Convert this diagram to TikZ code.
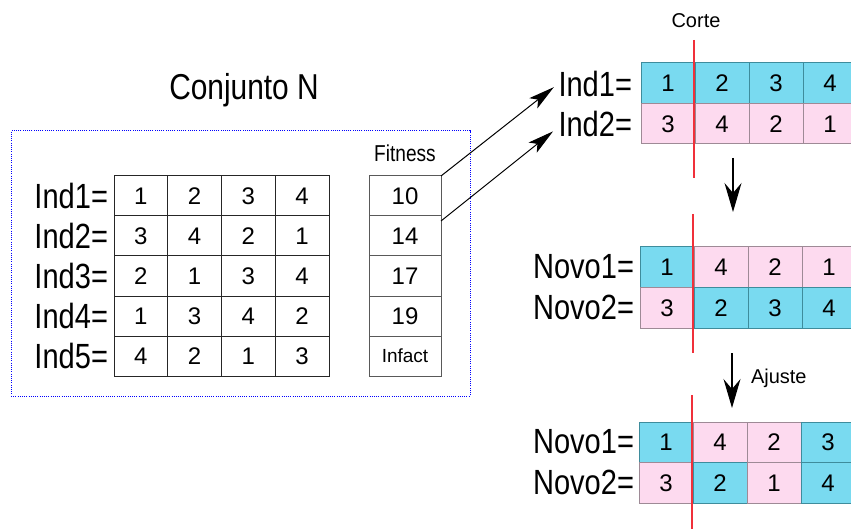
\documentclass[tikz,border=0pt]{standalone}
\usepackage{fontspec}
\setmainfont{Liberation Sans}
\newfontfamily\narrowsans[FakeStretch=0.83]{Liberation Sans}
\usetikzlibrary{arrows.meta}
\definecolor{genecyan}{HTML}{79DAF0}
\definecolor{genepink}{HTML}{FDDAEF}
\definecolor{cyanedge}{HTML}{3E8C9C}
\definecolor{pinkedge}{HTML}{9E8A96}
\definecolor{cutred}{HTML}{F0303A}

\begin{document}
\begin{tikzpicture}[x=1pt,y=-1pt,
  every node/.style={inner sep=0pt, outer sep=0pt},
  cell/.style={draw=black!85, line width=1pt, minimum width=53.75pt, minimum height=40pt,
    anchor=north west, font=\fontsize{24}{28}\selectfont},
  fitcell/.style={cell, draw=black!65, minimum width=72pt},
  gc/.style={cell, fill=genecyan, draw=cyanedge, minimum width=54pt, minimum height=40.5pt},
  gp/.style={cell, fill=genepink, draw=pinkedge, minimum width=54pt, minimum height=40.5pt},
  rowlabel/.style={anchor=east, font=\narrowsans\fontsize{35}{40}\selectfont},
  smalltext/.style={font=\fontsize{20}{24}\selectfont},
  cutline/.style={draw=cutred, line width=1.2pt},
  bigarrow/.style={-{Stealth[length=29pt,width=17pt,inset=10pt]}, line width=1.2pt},
  linkarrow/.style={-{Stealth[length=26pt,width=13pt,inset=6pt]}, line width=1pt}]
\useasboundingbox (0,0) rectangle (851,529);

% population set
\node[draw=blue, dash pattern=on 1pt off 1.2pt, line width=1pt, minimum width=459pt,
  minimum height=265pt, anchor=north west] (setN) at (11,131) {};
\node[font=\narrowsans\fontsize{36}{40}\selectfont] (title) at (244,90) {Conjunto N};

\foreach \vals [count=\r] in {{1,2,3,4},{3,4,2,1},{2,1,3,4},{1,3,4,2},{4,2,1,3}} {
  \node[rowlabel] (ind\r) at (108,156+40*\r) {Ind\r=};
  \foreach \v [count=\c] in \vals {
    \node[cell] (m\r\c) at (60.25+53.75*\c,136+40*\r) {\v};
  }
}

% fitness column
\node[font=\narrowsans\fontsize{23}{26}\selectfont] (fitlabel) at (405,153) {Fitness};
\foreach \f [count=\r] in {10,14,17,19}
  \node[fitcell] (fit\r) at (369,136+40*\r) {\f};
\node[fitcell, font=\fontsize{19}{22}\selectfont] (fit5) at (369,336) {Infact};

% selected parents
\node[rowlabel] (p1) at (632,83.5) {Ind1=};
\node[rowlabel] (p2) at (632,124) {Ind2=};
\foreach \st/\v [count=\c] in {gc/1,gc/2,gc/3,gc/4}
  \node[\st] (a1\c) at (587+54*\c,63) {\v};
\foreach \st/\v [count=\c] in {gp/3,gp/4,gp/2,gp/1}
  \node[\st] (a2\c) at (587+54*\c,103.5) {\v};

% offspring after crossover
\node[rowlabel] (b1lab) at (634,267) {Novo1=};
\node[rowlabel] (b2lab) at (634,307.5) {Novo2=};
\foreach \st/\v [count=\c] in {gc/1,gp/4,gp/2,gp/1}
  \node[\st] (b1\c) at (586+54*\c,247) {\v};
\foreach \st/\v [count=\c] in {gp/3,gc/2,gc/3,gc/4}
  \node[\st] (b2\c) at (586+54*\c,287.5) {\v};

% offspring after repair
\node[rowlabel] (c1lab) at (634,442) {Novo1=};
\node[rowlabel] (c2lab) at (634,482.5) {Novo2=};
\foreach \st/\v [count=\c] in {gc/1,gp/4,gp/2,gc/3}
  \node[\st] (c1\c) at (585+54*\c,422) {\v};
\foreach \st/\v [count=\c] in {gp/3,gc/2,gp/1,gc/4}
  \node[\st] (c2\c) at (585+54*\c,462.5) {\v};

% cut point
\node[smalltext] (corte) at (696,21) {Corte};
\draw[cutline] (694,40) -- (694,178);
\draw[cutline] (693,214) -- (693,353);
\draw[cutline] (692,395) -- (692,529);

% links from fitness to parents
\draw[linkarrow, shorten >=6pt] (fit1.north east) -- (p1.west);
\draw[linkarrow, shorten >=7pt] ([yshift=-5pt]fit2.north east) -- ([yshift=-3pt]p2.west);

% step arrows
\coordinate (s1a) at (733,158);
\coordinate (s1b) at (733,212);
\coordinate (s2a) at (732,353);
\coordinate (s2b) at (732,408);
\draw[bigarrow] (s1a) -- (s1b);
\draw[bigarrow] (s2a) -- (s2b);
\node[smalltext, anchor=west] (ajuste) at (751,378) {Ajuste};
\end{tikzpicture}
\end{document}
